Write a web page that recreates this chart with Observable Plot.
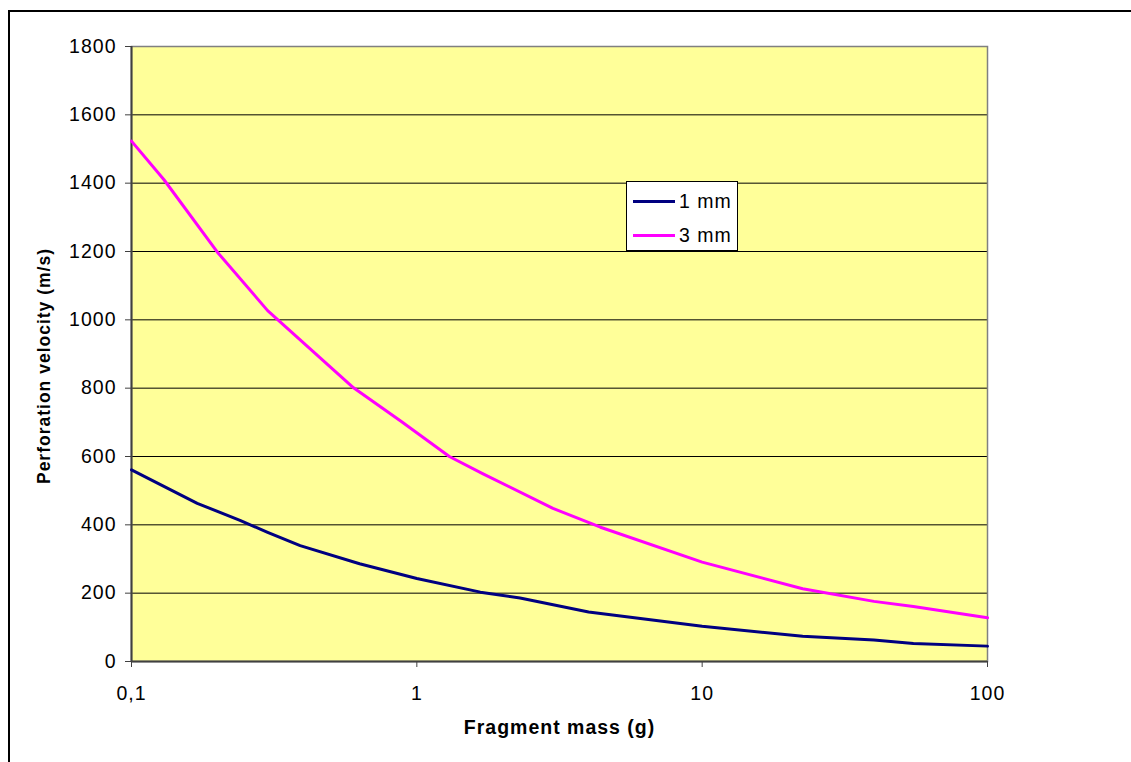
<!DOCTYPE html>
<html>
<head>
<meta charset="utf-8">
<script src="https://cdn.jsdelivr.net/npm/d3@7"></script>
<script src="https://cdn.jsdelivr.net/npm/@observablehq/plot@0.6"></script>
<style>
  html, body { margin: 0; padding: 0; background: #fff; overflow: hidden; }
  #wrap { position: relative; width: 1131px; height: 762px; overflow: hidden; font-family: "Liberation Sans", Arial, sans-serif; }
  #btop { position: absolute; left: 8px; top: 10px; width: 1123px; height: 2px; background: #000; }
  #bleft { position: absolute; left: 8px; top: 10px; width: 2px; height: 752px; background: #000; }
  #chart { position: absolute; left: 0; top: 0; }
  #legend { position: absolute; left: 626px; top: 181px; width: 110px; height: 68px; background: #fff; border: 1px solid #000; }
  .item { position: absolute; left: 0; height: 20px; font-size: 19.5px; letter-spacing: 1px; line-height: 20px; color: #000; }
  .item span.sw { position: absolute; left: 6px; top: 9px; width: 42px; height: 3px; }
  .item span.tx { position: absolute; left: 52px; top: 0; white-space: nowrap; }
</style>
</head>
<body>
<div id="wrap">
  <div id="btop"></div>
  <div id="bleft"></div>
  <div id="chart"></div>
  <div id="legend"></div>
</div>
<script>
// Series labels and colours
const seriesNames = ["1 mm", "3 mm"];
const seriesColors = ["#000080", "#FF00FF"];

// 1 mm plate
const mass1 = [0.1, 0.17, 0.24, 0.3, 0.39, 0.63, 1, 1.67, 2.3, 4, 10, 22.5, 40, 55, 100];
const vel1  = [561, 463, 413, 378, 339, 286, 243, 203, 186, 145, 103, 74, 63, 53, 45];

// 3 mm plate
const mass3 = [0.1, 0.13, 0.2, 0.3, 0.6, 0.88, 1.3, 1.7, 3, 4.4, 10, 22.5, 40, 55, 100];
const vel3  = [1523, 1410, 1198, 1027, 801, 703, 600, 550, 448, 393, 291, 213, 176, 161, 128];

// Axis ticks
const xTicks = [0.1, 1, 10, 100];
const xTickLabels = ["0,1", "1", "10", "100"];
const yTicks = [0, 200, 400, 600, 800, 1000, 1200, 1400, 1600, 1800];

const xLabel = "Fragment mass (g)";
const yLabel = "Perforation velocity (m/s)";

const rows1 = mass1.map((m, i) => ({mass: m, vel: vel1[i]}));
const rows3 = mass3.map((m, i) => ({mass: m, vel: vel3[i]}));

const chart = Plot.plot({
  width: 1131,
  height: 762,
  marginLeft: 131,
  marginRight: 144,
  marginTop: 46,
  marginBottom: 101,
  style: {
    fontFamily: "'Liberation Sans', Arial, sans-serif",
    fontSize: "19.5px",
    letterSpacing: "1px",
    color: "#000",
    background: "transparent"
  },
  x: {type: "log", domain: [0.1, 100]},
  y: {domain: [0, 1800]},
  marks: [
    Plot.frame({fill: "#FFFF99"}),
    Plot.gridY(yTicks, {stroke: "#000", strokeOpacity: 1, strokeWidth: 1}),
    Plot.frame({stroke: "#808080", strokeWidth: 1.5}),
    Plot.ruleX([0.1], {stroke: "#404040", strokeWidth: 2}),
    Plot.ruleY([0], {stroke: "#404040", strokeWidth: 2}),
    Plot.line(rows1, {x: "mass", y: "vel", stroke: seriesColors[0], strokeWidth: 3}),
    Plot.line(rows3, {x: "mass", y: "vel", stroke: seriesColors[1], strokeWidth: 3}),
    Plot.axisY({ticks: yTicks, tickSize: 6, tickPadding: 9, tickFormat: d => String(d), label: null, stroke: "#404040"}),
    Plot.axisX({ticks: xTicks, tickSize: 6, tickPadding: 19, tickFormat: d => xTickLabels[xTicks.indexOf(d)] ?? "", label: null, stroke: "#404040"}),
    Plot.text([yLabel], {frameAnchor: "left", dx: -87, dy: 12, rotate: -90, textAnchor: "middle", fontWeight: "bold", fontSize: 17.5, text: d => d, letterSpacing: "0px"}),
    Plot.text([xLabel], {frameAnchor: "bottom", dy: 72, textAnchor: "middle", fontWeight: "bold", text: d => d})
  ]
});
document.getElementById("chart").appendChild(chart);

// Legend
const legend = document.getElementById("legend");
seriesNames.forEach((name, i) => {
  const item = document.createElement("div");
  item.className = "item";
  item.style.top = (i === 0 ? 9 : 43) + "px";
  const sw = document.createElement("span");
  sw.className = "sw";
  sw.style.background = seriesColors[i];
  const tx = document.createElement("span");
  tx.className = "tx";
  tx.textContent = name;
  item.appendChild(sw);
  item.appendChild(tx);
  legend.appendChild(item);
});
</script>
</body>
</html>
